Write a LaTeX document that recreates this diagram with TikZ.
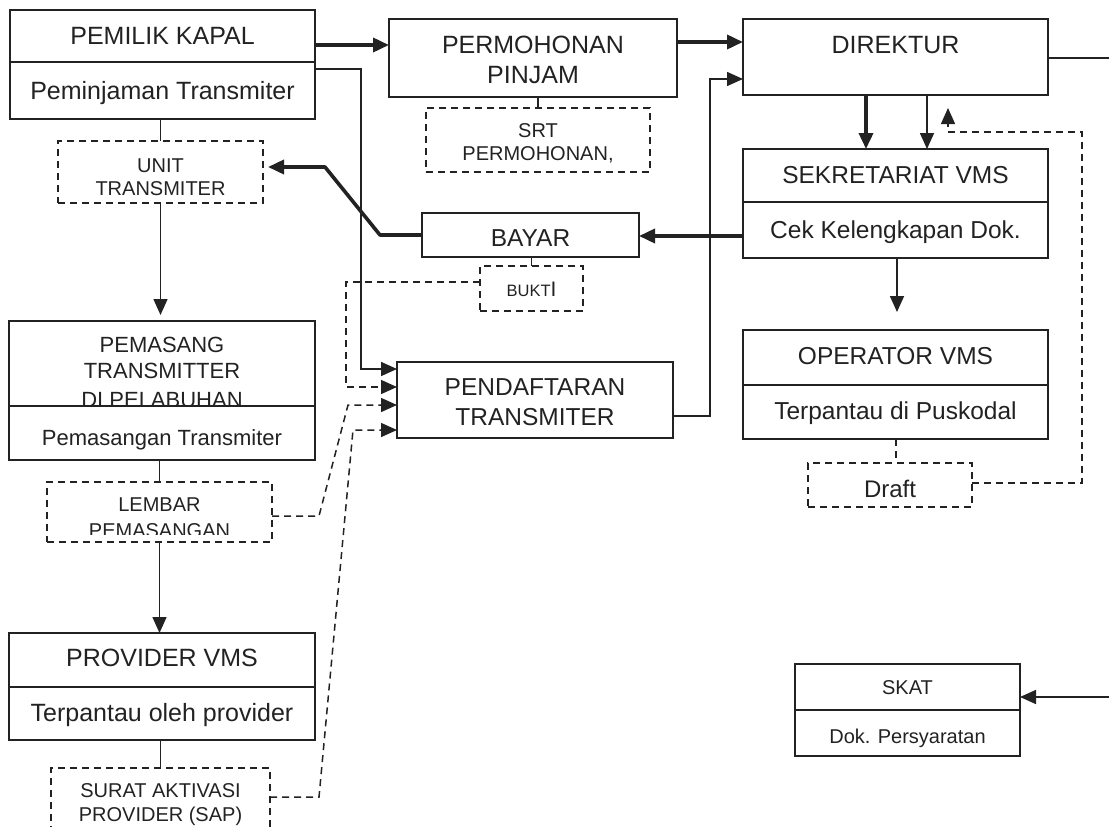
\documentclass[tikz,border=0pt]{standalone}
\usepackage{fontspec}
\setmainfont{Liberation Sans}
\usetikzlibrary{arrows.meta}
\definecolor{lc}{HTML}{222222}
\definecolor{tc}{HTML}{222222}

\begin{document}
\begin{tikzpicture}[x=1pt,y=-1pt,
  box/.style={draw=lc,line width=1.8pt,anchor=north west,inner sep=0pt,outer sep=0pt},
  dbox/.style={box,line width=1.5pt,dash pattern=on 7pt off 5pt},
  lbl/.style={text=tc,anchor=base,inner sep=0pt,outer sep=0pt},
  fL/.style={font=\fontsize{25}{30}\selectfont},
  fLs/.style={font=\fontsize{24.5}{29}\selectfont},
  fM/.style={font=\fontsize{22}{26}\selectfont},
  fS/.style={font=\fontsize{20}{24}\selectfont},
  fXS/.style={font=\fontsize{16.5}{19}\selectfont},
  link/.style={draw=lc,line width=1.6pt},
  heavy/.style={draw=lc,line width=3.6pt,line join=round},
  dlink/.style={draw=lc,line width=1.5pt,dash pattern=on 7pt off 5pt},
  tip/.style={-{Triangle[length=16pt,width=14pt]}},
  divider/.style={draw=lc,line width=1.8pt}
]
\useasboundingbox (0,0) rectangle (1109,827);
\clip (0,0) rectangle (1109,827);

% ---------- boxes with a title and an activity part ----------
\node[box,minimum width=305pt,minimum height=109pt] (pemilik) at (10,10) {};
\draw[divider] ([yshift=-52pt]pemilik.north west) -- ([yshift=-52pt]pemilik.north east);
\node[lbl,fL] (pemilikA) at (162.5,44) {PEMILIK KAPAL};
\node[lbl,fL] (pemilikB) at (162.5,99) {Peminjaman Transmiter};

\node[box,minimum width=306pt,minimum height=139pt] (pemasang) at (9,321) {};
\node[lbl,fM] (pemasangA) at (162,352) {PEMASANG};
\node[lbl,fM] (pemasangB) at (162,378) {TRANSMITTER};
\node[lbl,fM] (pemasangC) at (162,407) {DI PELABUHAN};
\draw[divider,fill=white] ([yshift=-85pt]pemasang.north west) rectangle (pemasang.south east);
\node[lbl,fM] (pemasangD) at (162,445) {Pemasangan Transmiter};

\node[box,minimum width=306pt,minimum height=107pt] (provider) at (9,633) {};
\draw[divider] ([yshift=-54pt]provider.north west) -- ([yshift=-54pt]provider.north east);
\node[lbl,fL] (providerA) at (162,666) {PROVIDER VMS};
\node[lbl,fL] (providerB) at (162,721.7) {Terpantau oleh provider};

\node[box,minimum width=305pt,minimum height=109pt] (sekret) at (743,149) {};
\draw[divider] ([yshift=-53pt]sekret.north west) -- ([yshift=-53pt]sekret.north east);
\node[lbl,fLs] (sekretA) at (895.5,183.3) {SEKRETARIAT VMS};
\node[lbl,fLs] (sekretB) at (895.5,238) {Cek Kelengkapan Dok.};

\node[box,minimum width=305pt,minimum height=109pt] (operator) at (743,330) {};
\draw[divider] ([yshift=-55pt]operator.north west) -- ([yshift=-55pt]operator.north east);
\node[lbl,fLs] (operatorA) at (895.5,364.3) {OPERATOR VMS};
\node[lbl,fLs] (operatorB) at (895.5,419.3) {Terpantau di Puskodal};

\node[box,minimum width=225pt,minimum height=92pt] (skat) at (795,664) {};
\draw[divider] ([yshift=-46pt]skat.north west) -- ([yshift=-46pt]skat.north east);
\node[lbl,fS] (skatA) at (907.5,694.3) {SKAT};
\node[lbl,fS] (skatB) at (907.5,743.3) {Dok. Persyaratan};

% ---------- single boxes ----------
\node[box,minimum width=288pt,minimum height=78pt] (permohonan) at (389,19) {};
\node[lbl,fL] (permohonanA) at (533,53) {PERMOHONAN};
\node[lbl,fL] (permohonanB) at (533,83) {PINJAM};

\node[box,minimum width=305pt,minimum height=76pt] (direktur) at (743,19) {};
\node[lbl,fL] (direkturA) at (895.5,53) {DIREKTUR};

\node[box,minimum width=217pt,minimum height=44pt] (bayar) at (422,213) {};
\node[lbl,fLs] (bayarA) at (530.5,246.7) {BAYAR};

\node[box,minimum width=276pt,minimum height=76pt] (pendaftaran) at (397,362) {};
\node[lbl,fLs] (pendaftaranA) at (535,395.7) {PENDAFTARAN};
\node[lbl,fLs] (pendaftaranB) at (535,425) {TRANSMITER};

% ---------- documents (dashed) ----------
\node[dbox,minimum width=205pt,minimum height=62pt] (unit) at (58,141) {};
\node[lbl,fS] (unitA) at (160.5,172) {UNIT};
\node[lbl,fS] (unitB) at (160.5,195) {TRANSMITER};

\node[dbox,minimum width=224pt,minimum height=64pt] (srt) at (426,108) {};
\node[lbl,fS] (srtA) at (538,137) {SRT};
\node[lbl,fS] (srtB) at (538,160.7) {PERMOHONAN,};

\node[dbox,minimum width=103pt,minimum height=45pt] (bukti) at (480,266) {};
\node[lbl,fXS] (buktiA) at (531.5,296.7) {BUKT{\fontsize{21}{24}\selectfont I}};

\node[dbox,minimum width=225pt,minimum height=60pt] (lembar) at (47,482) {};
\node[lbl,fS] (lembarA) at (159.5,511.7) {LEMBAR};
\begin{scope}
  \clip (47,482) rectangle (272,534);
  \node[lbl,fS] (lembarB) at (159.5,537) {PEMASANGAN};
\end{scope}

\node[dbox,minimum width=164pt,minimum height=44pt] (draft) at (808,463) {};
\node[lbl,font=\fontsize{24}{28}\selectfont] (draftA) at (890,497) {Draft};

\node[dbox,minimum width=219pt,minimum height=80pt] (surat) at (51,768) {};
\node[lbl,fS] (suratA) at (160.5,797.7) {SURAT AKTIVASI};
\node[lbl,fS] (suratB) at (160.5,821) {PROVIDER (SAP)};

% ---------- bend points ----------
\coordinate (yA) at (0,45);
\coordinate (yB) at (0,42);
\coordinate (b1) at (361,69);
\coordinate (b2) at (0,369);
\coordinate (c1) at (380,235);
\coordinate (c2) at (325,167);
\coordinate (c3) at (0,236);
\coordinate (d1) at (346,282);
\coordinate (d2) at (0,387);
\coordinate (e1) at (319,516);
\coordinate (e2) at (348,405);
\coordinate (f1) at (319,797);
\coordinate (f2) at (353,430);
\coordinate (g1) at (710,416);
\coordinate (g2) at (0,79);
\coordinate (h1) at (866,0);
\coordinate (h2) at (927,0);
\coordinate (i1) at (1082,483);
\coordinate (i2) at (948,132);
\coordinate (i3) at (948,108);
\coordinate (j1) at (897,312);
\coordinate (k1) at (896,0);
\coordinate (edgeA) at (1109,58);
\coordinate (edgeB) at (1109,697);

% ---------- connectors ----------
\draw[heavy,tip] (pemilik.east |- yA) -- (permohonan.west |- yA);
\draw[link,tip] (pemilik.east |- b1) -- (b1) -- (b1 |- b2) -- (pendaftaran.west |- b2);
\draw[heavy,tip] (permohonan.east |- yB) -- (direktur.west |- yB);
\draw[link] (srt.north |- permohonan.south) -- (srt.north);
\draw[link] (pemilik.south -| unit.north) -- (unit.north);
\draw[link,tip,shorten >=6pt] (unit.south) -- (unit.south |- pemasang.north);
\draw[link] (pemasang.south -| lembar.north) -- (lembar.north);
\draw[link,tip] (lembar.south) -- (lembar.south |- provider.north);
\draw[link] (provider.south -| surat.north) -- (surat.north);
\draw[heavy,tip,shorten >=5pt] (bayar.west |- c1) -- (c1) -- (c2) -- (unit.east |- c2);
\draw[heavy,tip] (sekret.west |- c3) -- (bayar.east |- c3);
\draw[link] (bayar.south -| bukti.north) -- (bukti.north);
\draw[dlink,tip] (bukti.west |- d1) -- (d1) -- (d1 |- d2) -- (pendaftaran.west |- d2);
\draw[dlink,tip] (lembar.east |- e1) -- (e1) -- (e2) -- (pendaftaran.west |- e2);
\draw[dlink,tip] (surat.east |- f1) -- (f1) -- (f2) -- (pendaftaran.west |- f2);
\draw[link,tip] (pendaftaran.east |- g1) -- (g1) -- (g1 |- g2) -- (direktur.west |- g2);
\draw[heavy,tip] (direktur.south -| h1) -- (h1 |- sekret.north);
\draw[link,tip] (direktur.south -| h2) -- (h2 |- sekret.north);
\draw[dlink,tip] (draft.east |- i1) -- (i1) -- (i1 |- i2) -- (i2) -- (i3);
\draw[link,tip] (sekret.south -| j1) -- (j1);
\draw[dlink] (operator.south -| k1) -- (draft.north -| k1);
\draw[link] (direktur.east |- edgeA) -- (edgeA);
\draw[link,tip] (edgeB) -- (skat.east |- edgeB);
\end{tikzpicture}
\end{document}
